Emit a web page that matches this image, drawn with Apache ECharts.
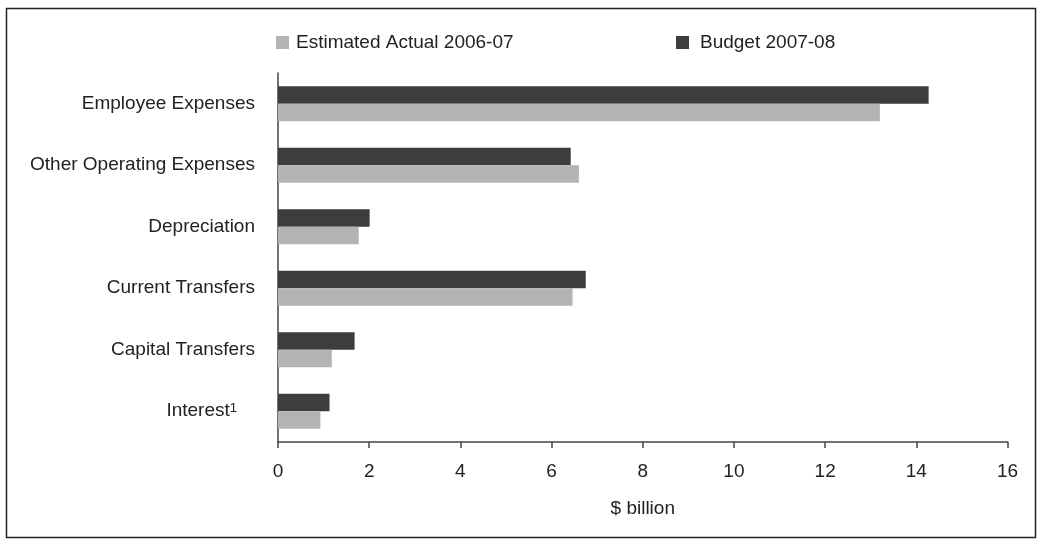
<!DOCTYPE html>
<html>
<head>
<meta charset="utf-8">
<script src="https://cdn.jsdelivr.net/npm/echarts@6/dist/echarts.min.js"></script>
<style>
  html, body { margin: 0; padding: 0; background: #fff; }
  #main { width: 1038px; height: 544px; }
</style>
</head>
<body>
<div id="main"></div>
<script>
// data ($ billion)
var categories = ['Employee Expenses', 'Other Operating Expenses', 'Depreciation', 'Current Transfers', 'Capital Transfers', 'Interest'];
var estimatedActual = [13.2, 6.6, 1.77, 6.46, 1.18, 0.93];
var budget = [14.27, 6.42, 2.01, 6.75, 1.68, 1.13];
var xTicks = [0, 2, 4, 6, 8, 10, 12, 14, 16];

var FONT = '"Liberation Sans", Arial, sans-serif';
var TXT = '#222';

var chart = echarts.init(document.getElementById('main'));
var option = {
  animation: false,
  backgroundColor: '#fff',
  textStyle: { fontFamily: FONT },
  graphic: [{
    type: 'rect',
    shape: { x: 6.5, y: 8.5, width: 1029, height: 529 },
    style: { fill: 'none', stroke: '#222', lineWidth: 1.5 },
    silent: true
  }],
  legend: [{
    data: ['Estimated Actual 2006-07'],
    left: 271, top: 28,
    itemWidth: 13, itemHeight: 13,
    icon: 'rect',
    textStyle: { fontFamily: FONT, fontSize: 19, color: TXT, padding: [0, 0, 0, 2] }
  }, {
    data: ['Budget 2007-08'],
    left: 671, top: 28,
    itemWidth: 13, itemHeight: 13,
    icon: 'rect',
    textStyle: { fontFamily: FONT, fontSize: 19, color: TXT, padding: [0, 0, 0, 6] }
  }],
  grid: { left: 278, right: 30.5, top: 73, bottom: 102, containLabel: false },
  xAxis: {
    type: 'value',
    min: xTicks[0], max: xTicks[xTicks.length - 1], interval: 2,
    name: '$ billion', nameLocation: 'middle', nameGap: 57,
    nameTextStyle: { fontFamily: FONT, fontSize: 19, color: TXT },
    axisLine: { show: true, lineStyle: { color: '#444', width: 1.5 } },
    axisTick: { show: true, length: 6, lineStyle: { color: '#444', width: 1.5 } },
    axisLabel: { fontFamily: FONT, fontSize: 19, color: TXT, margin: 20 },
    splitLine: { show: false }
  },
  yAxis: {
    type: 'category',
    inverse: true,
    data: categories,
    axisLine: { show: true, lineStyle: { color: '#444', width: 1.5 } },
    axisTick: { show: false },
    axisLabel: {
      fontFamily: FONT, fontSize: 19, color: TXT, margin: 23,
      formatter: function (v) {
        if (v === 'Interest') return 'Interest{sup|1}{sp|}';
        return v;
      },
      rich: {
        sup: { fontFamily: FONT, fontSize: 13, color: TXT, verticalAlign: 'top', lineHeight: 12 },
        sp: { width: 18 }
      }
    }
  },
  series: [{
    name: 'Budget 2007-08',
    type: 'bar',
    data: budget,
    barWidth: 17.5,
    barGap: '0%',
    itemStyle: { color: '#3d3d3d' }
  }, {
    name: 'Estimated Actual 2006-07',
    type: 'bar',
    data: estimatedActual,
    barWidth: 17.5,
    barGap: '0%',
    itemStyle: { color: '#b3b3b3' }
  }]
};
chart.setOption(option);
</script>
</body>
</html>
